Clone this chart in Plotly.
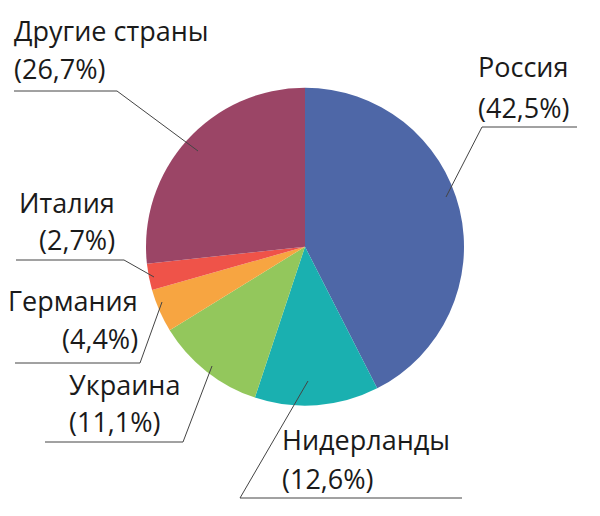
import plotly.graph_objects as go

# Exports by country, share in %
countries = ['Россия', 'Нидерланды', 'Украина', 'Германия', 'Италия', 'Другие страны']
shares = [42.5, 12.6, 11.1, 4.4, 2.7, 26.7]
colors = ['#4e67a7', '#1ab0b0', '#93c75c', '#f7a541', '#ef5349', '#9b4566']

# page body has an 8px margin, so the figure is drawn at an offset
OFF = 8
W, H = 600 - OFF, 516 - OFF

# label placement in page pixels:
# text x, line centres (y1, y2), anchor, underline (x0, x1, y), pointer start x, pointer tip (x, y)
label_pos = {
    'Россия':        (478, (66, 107), 'left',  (482, 577, 127), 482, (446, 197)),
    'Нидерланды':    (282, (439, 478), 'left', (240, 462, 498), 240, (308, 381)),
    'Украина':       (69, (384, 421), 'left',  (45, 183, 442), 183, (212, 366)),
    'Германия':      (138, (300, 338), 'right', (15, 140, 363), 140, (162, 302)),
    'Италия':        (115, (202, 239), 'right', (16, 124, 260), 124, (154, 277)),
    'Другие страны': (14, (30, 68), 'left',    (14, 117, 91), 117, (198, 151)),
}

cx, cy, r = 305, 246.7, 159


def px(x):
    return (x - OFF) / W


def py(y):
    return 1 - (y - OFF) / H


fig = go.Figure(go.Pie(
    labels=countries,
    values=shares,
    sort=False,
    direction='clockwise',
    rotation=0,
    marker=dict(colors=colors, line=dict(width=0)),
    textinfo='none',
    hoverinfo='skip',
    showlegend=False,
    domain=dict(x=[px(cx - r), px(cx + r)],
                y=[py(cy + r), py(cy - r)]),
))

for name, val in zip(countries, shares):
    tx, (y1, y2), anchor, (ux0, ux1, uy), sx, (lx, ly) = label_pos[name]
    pct = f'({val:.1f}%)'.replace('.', ',')
    for txt, yy in ((name, y1), (pct, y2)):
        fig.add_annotation(
            x=px(tx), y=py(yy), xref='paper', yref='paper',
            text=txt, showarrow=False,
            xanchor=anchor, yanchor='middle', align=anchor,
            xshift=-2 if anchor == 'left' else 2,
            font=dict(family='Open Sans', size=27, color='#1a1a1a'),
        )
    # underline and pointer
    fig.add_shape(type='line', xref='paper', yref='paper',
                  x0=px(ux0), x1=px(ux1), y0=py(uy), y1=py(uy),
                  line=dict(color='#444444', width=1))
    fig.add_shape(type='line', xref='paper', yref='paper',
                  x0=px(sx), x1=px(lx), y0=py(uy), y1=py(ly),
                  line=dict(color='#444444', width=1))

fig.update_layout(
    width=W, height=H,
    margin=dict(l=0, r=0, t=0, b=0),
    paper_bgcolor='white',
    plot_bgcolor='white',
)

fig.write_html("out.html")
